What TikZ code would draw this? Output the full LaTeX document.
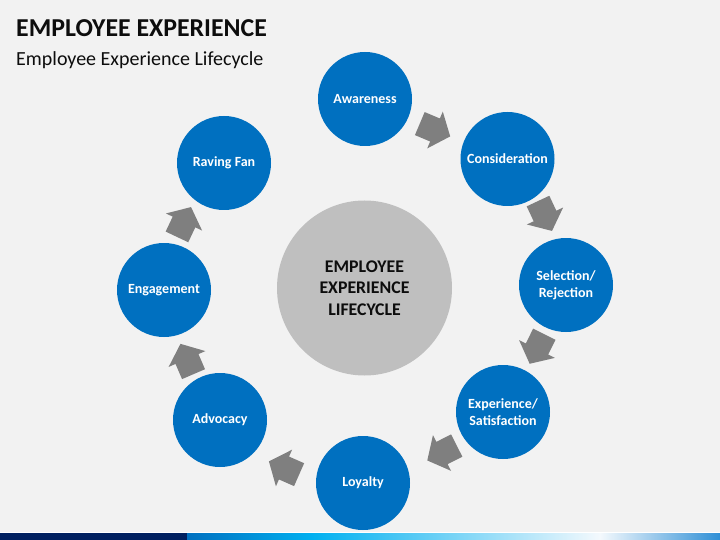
\documentclass[tikz,border=0pt]{standalone}
\usepackage{fontspec}
\setmainfont{Carlito}
\definecolor{bg}{HTML}{F2F2F2}
\definecolor{cblue}{HTML}{0070C0}
\definecolor{agray}{HTML}{7F7F7F}
\definecolor{cgray}{HTML}{BFBFBF}
\definecolor{navy}{HTML}{002060}
\definecolor{cyanb}{HTML}{00B0F0}
\definecolor{paleb}{HTML}{F4F9FD}
\definecolor{endb}{HTML}{2E8FD6}
\definecolor{dark}{HTML}{0D0D0D}
\begin{document}
\begin{tikzpicture}[x=1pt,y=-1pt,
  bluecirc/.style={circle,fill=cblue,minimum size=94pt,inner sep=0pt,text=white,
    align=center,font=\bfseries\fontsize{14}{17}\selectfont},
  graycirc/.style={circle,fill=cgray,minimum size=175pt,inner sep=0pt,text=dark,
    align=center,font=\bfseries\fontsize{17.8}{21.5}\selectfont},
  barrow/.pic={\fill[agray] (-16.5,-12.5) -- (0,-12.5) -- (0,-20) -- (16.5,0)
     -- (0,20) -- (0,12.5) -- (-16.5,12.5) -- cycle;}]
\useasboundingbox (0,0) rectangle (720,540);
\fill[bg] (0,0) rectangle (720,540);
% title
\node[anchor=base west,inner sep=0pt,text=dark,font=\bfseries\fontsize{25.8}{30}\selectfont] (title) at (16,37) {EMPLOYEE EXPERIENCE};
\node[anchor=base west,inner sep=0pt,text=dark,font=\fontsize{20}{24}\selectfont] (sub) at (16,66) {Employee Experience Lifecycle};
% centre
\node[graycirc] (ctr) at (364.5,288) {EMPLOYEE\\EXPERIENCE\\LIFECYCLE};
% stages
\node[bluecirc] (aw) at (365,99) {Awareness};
\node[bluecirc] (co) at (507.5,159) {Consideration};
\node[bluecirc] (se) at (566,285) {Selection/\\Rejection};
\node[bluecirc] (ex) at (503,412) {Experience/\\Satisfaction};
\node[bluecirc] (lo) at (363,483) {Loyalty};
\node[bluecirc] (ad) at (220,420) {Advocacy};
\node[bluecirc] (en) at (164,290) {Engagement};
\node[bluecirc] (rf) at (224,163) {Raving Fan};
% arrows
\pic[rotate=-22.9] at (435,130) {barrow};
\pic[rotate=-64.9] at (545,216) {barrow};
\pic[rotate=-116.4] at (537,349) {barrow};
\pic[rotate=-153.1] at (442,453) {barrow};
\pic[rotate=156.2] at (284,468) {barrow};
\pic[rotate=113.3] at (187,359) {barrow};
\pic[rotate=64.7] at (184,222) {barrow};
% bottom bar
\fill[white] (0,531.5) rectangle (720,533);
\fill[navy] (0,533) rectangle (187,540);
\shade[left color=cblue,right color=cyanb] (187,533) rectangle (312,540);
\shade[left color=cyanb,right color=paleb] (312,533) rectangle (600,540);
\shade[left color=paleb,right color=endb] (600,533) rectangle (720,540);
\end{tikzpicture}
\end{document}
